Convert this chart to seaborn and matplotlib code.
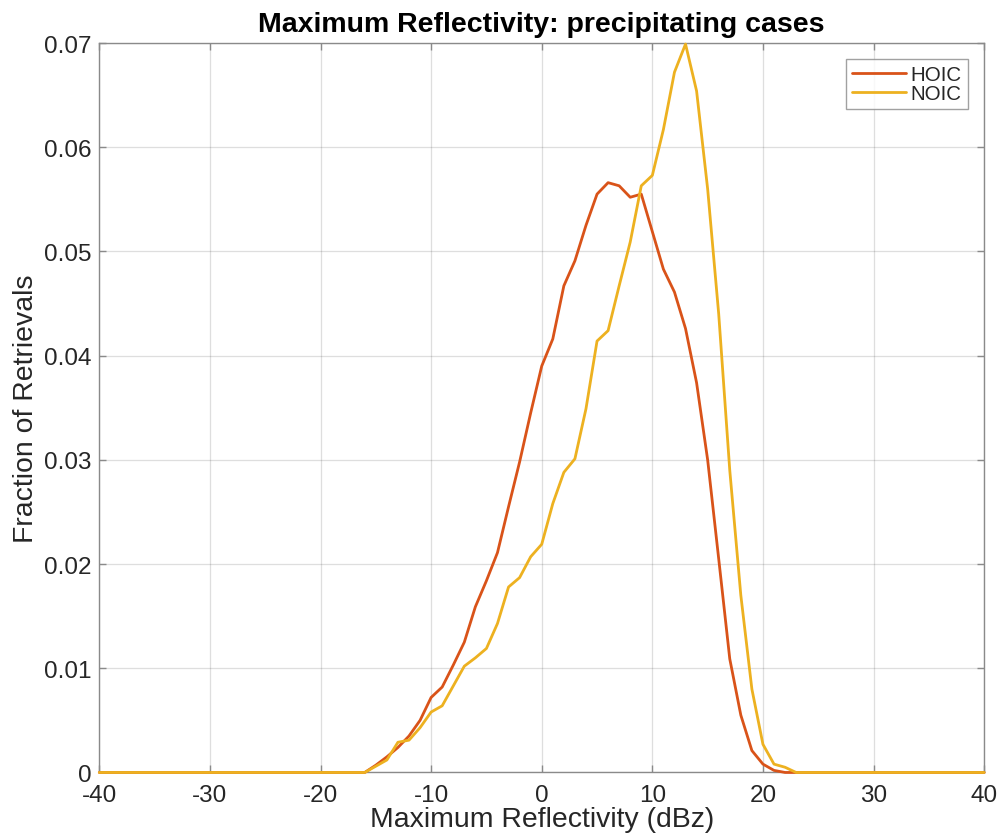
import numpy as np
import pandas as pd
import matplotlib
matplotlib.use("Agg")
import matplotlib.pyplot as plt
import seaborn as sns

# ---- data ----
reflectivity = list(range(-40, 41))

hoic_nonzero = {
    -15: 0.0007, -14: 0.0015, -13: 0.0024, -12: 0.0035, -11: 0.0050,
    -10: 0.0072, -9: 0.0082, -8: 0.0103, -7: 0.0125, -6: 0.0159,
    -5: 0.0184, -4: 0.0211, -3: 0.0255, -2: 0.0298, -1: 0.0345,
    0: 0.0390, 1: 0.0416, 2: 0.0467, 3: 0.0491, 4: 0.0525,
    5: 0.0555, 6: 0.0566, 7: 0.0563, 8: 0.0552, 9: 0.0555,
    10: 0.0519, 11: 0.0483, 12: 0.0461, 13: 0.0426, 14: 0.0374,
    15: 0.0300, 16: 0.0205, 17: 0.0109, 18: 0.0055, 19: 0.0021,
    20: 0.0008, 21: 0.0002,
}
noic_nonzero = {
    -15: 0.0006, -14: 0.0012, -13: 0.0029, -12: 0.0031, -11: 0.0043,
    -10: 0.0058, -9: 0.0064, -8: 0.0083, -7: 0.0102, -6: 0.0110,
    -5: 0.0119, -4: 0.0143, -3: 0.0178, -2: 0.0187, -1: 0.0207,
    0: 0.0219, 1: 0.0258, 2: 0.0288, 3: 0.0301, 4: 0.0349,
    5: 0.0414, 6: 0.0424, 7: 0.0467, 8: 0.0509, 9: 0.0563,
    10: 0.0573, 11: 0.0617, 12: 0.0672, 13: 0.0699, 14: 0.0654,
    15: 0.0560, 16: 0.0440, 17: 0.0290, 18: 0.0170, 19: 0.0080,
    20: 0.0027, 21: 0.0008, 22: 0.0005,
}
hoic = [hoic_nonzero.get(x, 0.0) for x in reflectivity]
noic = [noic_nonzero.get(x, 0.0) for x in reflectivity]

series_names = ["HOIC", "NOIC"]
colors = {"HOIC": "#D95319", "NOIC": "#EDB120"}
xticks = list(range(-40, 41, 10))
yticks = [0, 0.01, 0.02, 0.03, 0.04, 0.05, 0.06, 0.07]
ytick_labels = ["0", "0.01", "0.02", "0.03", "0.04", "0.05", "0.06", "0.07"]

df = pd.DataFrame({
    "x": reflectivity * 2,
    "y": hoic + noic,
    "case": ["HOIC"] * len(reflectivity) + ["NOIC"] * len(reflectivity),
})

# ---- style ----
sns.set_theme(style="white")
plt.rcParams["font.family"] = ["Liberation Sans", "DejaVu Sans"]

fig = plt.figure(figsize=(10.02, 8.37), dpi=100)
ax = fig.add_axes([0.0991, 0.0759, 0.8831, 0.8715])

sns.lineplot(data=df, x="x", y="y", hue="case", hue_order=series_names,
             palette=colors, linewidth=2.0, ax=ax, legend=True)
for ln in ax.lines:
    ln.set_clip_on(False)
    ln.set_zorder(4)

ax.set_xlim(-40, 40)
ax.set_ylim(0, 0.07)
ax.set_xticks(xticks)
ax.set_xticklabels([str(t) for t in xticks])
ax.set_yticks(yticks)
ax.set_yticklabels(ytick_labels)

ax.grid(True, color="#262626", alpha=0.15, linewidth=0.9)
ax.set_axisbelow(True)
for s in ax.spines.values():
    s.set_visible(True)
    s.set_color("#8a8a8a")
    s.set_linewidth(1.0)
    s.set_zorder(2.5)
ax.tick_params(axis="both", which="both", direction="in", length=5,
               width=1.0, color="#8a8a8a", labelsize=17.5, labelcolor="#262626",
               top=True, right=True, bottom=True, left=True)
ax.tick_params(axis="x", pad=8.5)
ax.tick_params(axis="y", pad=5.5)

ax.set_xlabel("Maximum Reflectivity (dBz)", fontsize=20.4, color="#262626", labelpad=0)
ax.set_ylabel("Fraction of Retrievals", fontsize=20.4, color="#262626", labelpad=4)
ax.set_title("Maximum Reflectivity: precipitating cases", fontsize=20.5,
             fontweight="bold", color="black", pad=9)

leg = ax.legend(loc="upper right", bbox_to_anchor=(0.9817, 0.978), fontsize=14.8,
                frameon=True, fancybox=False, handlelength=2.6, handletextpad=0.25,
                borderpad=0.3, labelspacing=0.0, borderaxespad=0.0)
leg.get_frame().set_edgecolor("#8a8a8a")
leg.get_frame().set_linewidth(1.0)
for t in leg.get_texts():
    t.set_color("#262626")
for h in leg.get_lines():
    h.set_linewidth(2.0)

fig.savefig("out.png", dpi=100)
